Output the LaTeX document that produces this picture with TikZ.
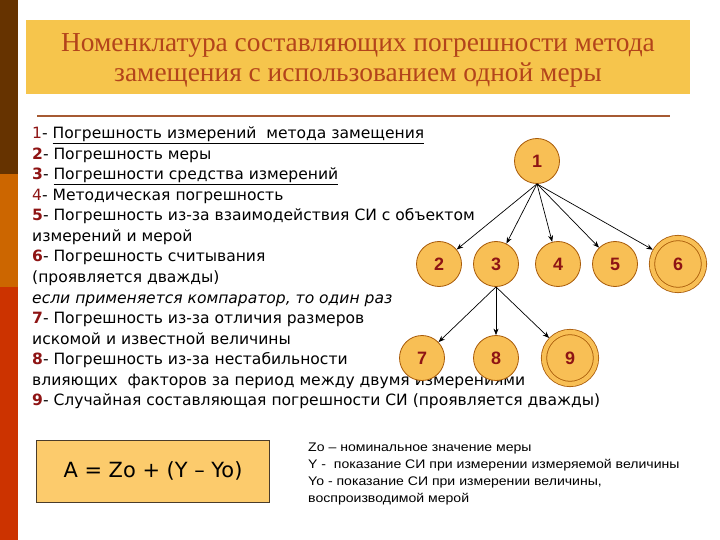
\documentclass[tikz,border=0pt]{standalone}
\usepackage{fontspec}
\setmainfont{DejaVu Sans}
\newfontfamily\titlefont{Liberation Serif}
\newfontfamily\notefont[FakeStretch=1.13]{Liberation Sans}
\newfontfamily\digitfont{Liberation Sans}
\usetikzlibrary{arrows.meta}
\definecolor{stripebrown}{HTML}{663300}
\definecolor{stripeorange}{HTML}{CC6600}
\definecolor{stripered}{HTML}{CC3300}
\definecolor{titlefill}{HTML}{F6C54C}
\definecolor{titletext}{HTML}{B3441B}
\definecolor{ruleline}{HTML}{A65A32}
\definecolor{errfill}{HTML}{F8BF55}
\definecolor{errline}{HTML}{A85A08}
\definecolor{numred}{HTML}{8E1414}
\definecolor{boxfill}{HTML}{FCCB6C}
\definecolor{boxline}{HTML}{4A3C2A}
\newcommand{\numb}[1]{\textcolor{numred}{\bfseries #1}}
\newcommand{\numr}[1]{\textcolor{numred}{#1}}

\begin{document}
\begin{tikzpicture}[x=1bp,y=-1bp,
    rowtext/.style={anchor=base west,inner sep=0pt,font=\fontsize{15.6}{18}\selectfont},
    notetext/.style={anchor=base west,inner sep=0pt,font=\notefont\fontsize{12.5}{14}\selectfont},
    err/.style={circle,draw=errline,line width=0.8bp,fill=errfill,minimum size=45bp,inner sep=0pt,
        text=numred,font=\digitfont\bfseries\fontsize{18}{18}\selectfont},
    twice/.style={err,minimum size=52bp,double=errfill,double distance=4.5bp},
    link/.style={->,line width=0.7bp},
    >={Stealth[length=6.5bp,width=5bp]}]
\useasboundingbox (0,0) rectangle (720,540);
\fill[white] (0,0) rectangle (720,540);
% side stripe
\fill[stripebrown] (0,0) rectangle (18,174);
\fill[stripeorange] (0,174) rectangle (18,287);
\fill[stripered] (0,287) rectangle (18,540);

% title
\fill[titlefill] (26,20) rectangle (690,94);
\node[align=center,text=titletext,font=\titlefont\fontsize{27.5}{30}\selectfont] (title) at (358,60.5)
    {Номенклатура составляющих погрешности метода\\замещения с использованием одной меры};
\draw[ruleline,line width=1.5bp] (37,116) -- (670,116);

% list of components
\node[rowtext] (t1) at (32,139) {\numr{1}- \underline{Погрешность измерений \ метода замещения}};
\node[rowtext] (t2) at (32,159.5) {\numb{2}- Погрешность меры};
\node[rowtext] (t3) at (32,180) {\numb{3}- \underline{Погрешности средства измерений}};
\node[rowtext] (t4) at (32,200.5) {\numr{4}- Методическая погрешность};
\node[rowtext] (t5) at (32,221) {\numb{5}- Погрешность из-за взаимодействия СИ с объектом};
\node[rowtext] (t6) at (32,241.5) {измерений и мерой};
\node[rowtext] (t7) at (32,262) {\numb{6}- Погрешность считывания};
\node[rowtext] (t8) at (32,282.5) {(проявляется дважды)};
\node[rowtext] (t9) at (32,303) {\itshape если применяется компаратор, то один раз};
\node[rowtext] (t10) at (32,323.5) {\numb{7}- Погрешность из-за отличия размеров};
\node[rowtext] (t11) at (32,344) {искомой и известной величины};
\node[rowtext] (t12) at (32,364.5) {\numb{8}- Погрешность из-за нестабильности};
\node[rowtext] (t13) at (32,385) {влияющих \ факторов за период между двумя измерениями};
\node[rowtext] (t14) at (32,405.5) {\numb{9}- Случайная составляющая погрешности СИ (проявляется дважды)};

% tree
\node[err] (e1) at (537,161) {1};
\node[err] (e2) at (439,264) {2};
\node[err] (e3) at (496,264) {3};
\node[err] (e4) at (558,264) {4};
\node[err] (e5) at (615,264) {5};
\node[twice] (e6) at (678,264) {6};
\node[err] (e7) at (422,358) {7};
\node[err] (e8) at (496,358) {8};
\node[twice] (e9) at (570,358) {9};
\foreach \k in {2,...,5}
    \draw[link] (e1.south) -- (e\k);
\draw[link,shorten >=2.5bp] (e1.south) -- (e6);
\draw[link] (e3.south) -- (e7);
\draw[link] (e3.south) -- (e8);
\draw[link,shorten >=2.5bp] (e3.south) -- (e9);

% formula and notation
\node[draw=boxline,fill=boxfill,minimum width=233bp,minimum height=62bp,
    font=\fontsize{21}{24}\selectfont] (formula) at (153,471) {A = Zo + (Y – Yo)};
\node[notetext] (n1) at (308,451) {Zo – номинальное значение меры};
\node[notetext] (n2) at (308,468) {Y - \ показание СИ при измерении измеряемой величины};
\node[notetext] (n3) at (308,485) {Yo - показание СИ при измерении величины,};
\node[notetext] (n4) at (308,502) {воспроизводимой мерой};
\end{tikzpicture}
\end{document}
